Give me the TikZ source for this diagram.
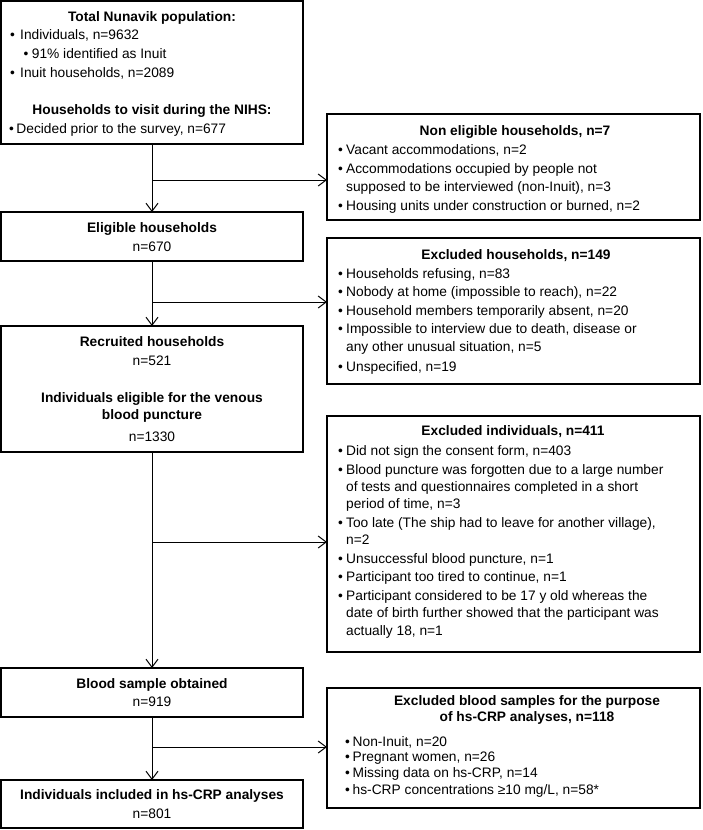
\documentclass[tikz,border=0pt]{standalone}
\usepackage{fontspec}
\setmainfont{Liberation Sans}
\usetikzlibrary{arrows.meta}
\newcommand\bu{\makebox[8pt][l]{\textbullet}}
\newcommand\ind{\hspace*{8pt}}
\begin{document}
\begin{tikzpicture}[x=1pt,y=-1pt,
  box/.style={draw, line width=1.1pt, anchor=north west, inner sep=0pt, outer sep=0pt},
  hd/.style={anchor=base, inner sep=0pt, font=\fontsize{13.75}{16}\selectfont\bfseries},
  ct/.style={anchor=base, inner sep=0pt, font=\fontsize{13.75}{16}\selectfont},
  tx/.style={anchor=base west, inner sep=0pt, font=\fontsize{13.75}{16}\selectfont},
  arr/.style={line width=1pt, -{Straight Barb[length=8pt,width=12pt,line width=1pt]}},
  ln/.style={line width=1pt}]
\useasboundingbox (0,0) rectangle (702,830);
% boxes
\node[box, minimum width=302pt, minimum height=143pt] (A) at (1,1) {};
\node[box, minimum width=373pt, minimum height=106pt] (B) at (327,114) {};
\node[box, minimum width=302pt, minimum height=49pt] (C) at (1,212) {};
\node[box, minimum width=373pt, minimum height=146pt] (D) at (327,238) {};
\node[box, minimum width=302pt, minimum height=126pt] (E) at (1,326) {};
\node[box, minimum width=373pt, minimum height=236pt] (F) at (327,416) {};
\node[box, minimum width=302pt, minimum height=49pt] (G) at (1,668) {};
\node[box, minimum width=373pt, minimum height=120pt] (H) at (327,688) {};
\node[box, minimum width=302pt, minimum height=48pt] (I) at (1,780) {};
% box A text
\node[hd] (a1) at (152,21) {Total Nunavik population:};
\node[tx] (a2) at (10,39.3) {\makebox[10pt][l]{\textbullet}Individuals, n=9632};
\node[tx] (a3) at (23.3,58.3) {\makebox[8.4pt][l]{\textbullet}91\% identified as Inuit};
\node[tx] (a4) at (10,77.3) {\makebox[10pt][l]{\textbullet}Inuit households, n=2089};
\node[hd] (a5) at (152,114.3) {Households to visit during the NIHS:};
\node[tx] (a6) at (9,133.3) {\makebox[7.3pt][l]{\textbullet}Decided prior to the survey, n=677};
% box B text
\node[hd] (b0) at (515,135) {Non eligible households, n=7};
\foreach \y/\t [count=\k] in {154/{\bu Vacant accommodations, n=2},
  173.3/{\bu Accommodations occupied by people not},
  191/{\ind supposed to be interviewed (non-Inuit), n=3},
  210.7/{\bu Housing units under construction or burned, n=2}}
  \node[tx] (b\k) at (338,\y) {\t};
% box C text
\node[hd] (c1) at (152,232.7) {Eligible households};
\node[ct] (c2) at (152,251.7) {n=670};
% box D text
\node[hd] (d0) at (516,259) {Excluded households, n=149};
\foreach \y/\t [count=\k] in {278/{\bu Households refusing, n=83},
  296.7/{\bu Nobody at home (impossible to reach), n=22},
  315/{\bu Household members temporarily absent, n=20},
  333.3/{\bu Impossible to interview due to death, disease or},
  351/{\ind any other unusual situation, n=5},
  371.7/{\bu Unspecified, n=19}}
  \node[tx] (d\k) at (338,\y) {\t};
% box E text
\node[hd] (e1) at (152,346.7) {Recruited households};
\node[ct] (e2) at (152,365.7) {n=521};
\node[hd] (e3) at (152,402.3) {Individuals eligible for the venous};
\node[hd] (e4) at (152,419.3) {blood puncture};
\node[ct] (e5) at (152,441.7) {n=1330};
% box F text
\node[hd] (f0) at (513,435.7) {Excluded individuals, n=411};
\foreach \y/\t [count=\k] in {455/{\bu Did not sign the consent form, n=403},
  474.3/{\bu Blood puncture was forgotten due to a large number},
  491.7/{\ind of tests and questionnaires completed in a short},
  508.3/{\ind period of time, n=3},
  527.7/{\bu Too late (The ship had to leave for another village),},
  544.3/{\ind n=2},
  563.3/{\bu Unsuccessful blood puncture, n=1},
  581/{\bu Participant too tired to continue, n=1},
  600/{\bu Participant considered to be 17 y old whereas the},
  617.7/{\ind date of birth further showed that the participant was},
  635/{\ind actually 18, n=1}}
  \node[tx] (f\k) at (338,\y) {\t};
% box G text
\node[hd] (g1) at (152,688.3) {Blood sample obtained};
\node[ct] (g2) at (152,706.7) {n=919};
% box H text
\node[hd] (h1) at (527,705) {Excluded blood samples for the purpose};
\node[hd] (h2) at (527,721.7) {of hs-CRP analyses, n=118};
\foreach \y/\t [count=\k] in {746/{Non-Inuit, n=20},
  761/{Pregnant women, n=26},
  777.7/{Missing data on hs-CRP, n=14},
  794.3/{hs-CRP concentrations ≥10 mg/L, n=58*}}
  \node[tx] (hh\k) at (345,\y) {\makebox[7.5pt][l]{\textbullet}\t};
% box I text
\node[hd] (i1) at (152,799.3) {Individuals included in hs-CRP analyses};
\node[ct] (i2) at (152,818.3) {n=801};
% connectors
\coordinate (j1) at (152,180);
\coordinate (j2) at (152,302);
\coordinate (j3) at (152,542);
\coordinate (j4) at (152,747);
\draw[arr] (A.south) -- (C.north);
\draw[arr] (j1) -- (j1 -| B.west);
\draw[arr] (C.south) -- (E.north);
\draw[arr] (j2) -- (j2 -| D.west);
\draw[arr] (E.south) -- (G.north);
\draw[arr] (j3) -- (j3 -| F.west);
\draw[arr] (G.south) -- (I.north);
\draw[arr] (j4) -- (j4 -| H.west);
\end{tikzpicture}
\end{document}
